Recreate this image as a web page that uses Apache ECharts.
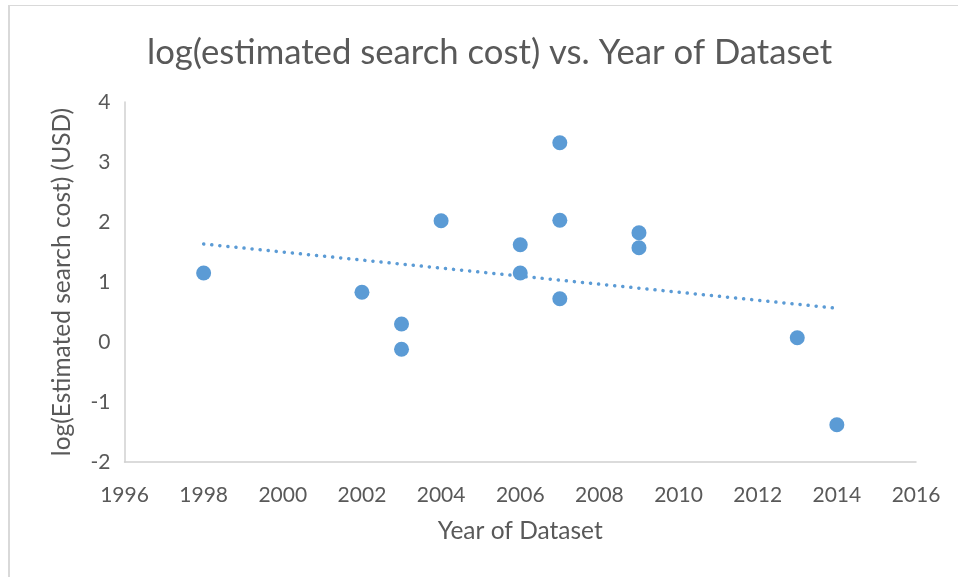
<!DOCTYPE html>
<html>
<head>
<meta charset="utf-8">
<script src="https://cdn.jsdelivr.net/npm/echarts@6/dist/echarts.min.js"></script>
<style>
html,body{margin:0;padding:0;background:#fff;}
#c{position:absolute;left:0;top:0;width:958px;height:577px;}
#b{position:absolute;left:8px;top:5px;width:960px;height:580px;border-left:2px solid #d9d9d9;border-top:1px solid #d9d9d9;}
</style>
</head>
<body>
<div id="b"></div>
<div id="c"></div>
<script>
const years = [1998, 2002, 2003, 2003, 2004, 2006, 2006, 2007, 2007, 2007, 2009, 2009, 2013, 2014];
const logCost = [1.15, 0.83, 0.30, -0.12, 2.02, 1.62, 1.15, 3.32, 2.03, 0.72, 1.82, 1.57, 0.07, -1.38];
const xTicks = [1996, 1998, 2000, 2002, 2004, 2006, 2008, 2010, 2012, 2014, 2016];
const yTicks = [-2, -1, 0, 1, 2, 3, 4];

// least-squares linear trendline
const n = years.length;
const mx = years.reduce((a, b) => a + b, 0) / n;
const my = logCost.reduce((a, b) => a + b, 0) / n;
let sxy = 0, sxx = 0;
for (let i = 0; i < n; i++) { sxy += (years[i] - mx) * (logCost[i] - my); sxx += (years[i] - mx) ** 2; }
const slope = sxy / sxx, icpt = my - slope * mx;
const xMin = Math.min(...years), xMax = Math.max(...years);
const trend = [[xMin, icpt + slope * xMin], [xMax, icpt + slope * xMax]];

const FONT = 'Lato';
const TXT = '#595959';
const chart = echarts.init(document.getElementById('c'));
chart.setOption({
  animation: false,
  title: {
    text: 'log(estimated search cost) vs. Year of Dataset',
    left: 142, top: 30,
    textStyle: { fontFamily: FONT, fontWeight: 'normal', fontSize: 34.7, color: TXT }
  },
  grid: { left: 124.5, right: 42, top: 102, bottom: 115, containLabel: false },
  xAxis: {
    type: 'value', min: xTicks[0], max: xTicks[xTicks.length - 1], interval: 2,
    name: 'Year of Dataset', nameLocation: 'middle', nameGap: 57,
    nameTextStyle: { fontFamily: FONT, fontSize: 24.5, color: TXT },
    axisLine: { show: true, onZero: false, lineStyle: { color: '#d0d0d0', width: 1.5 } },
    axisTick: { show: false }, splitLine: { show: false },
    axisLabel: { fontFamily: FONT, fontSize: 21, color: TXT, margin: 23, formatter: v => String(v) }
  },
  yAxis: {
    type: 'value', min: yTicks[0], max: yTicks[yTicks.length - 1], interval: 1,
    name: 'log(Estimated search cost) (USD)', nameLocation: 'middle', nameGap: 50,
    nameTextStyle: { fontFamily: FONT, fontSize: 24.5, color: TXT },
    axisLine: { show: true, onZero: false, lineStyle: { color: '#d0d0d0', width: 1.5 } },
    axisTick: { show: false }, splitLine: { show: false },
    axisLabel: { fontFamily: FONT, fontSize: 21, color: TXT, margin: 14 }
  },
  series: [
    {
      type: 'line', data: trend, symbol: 'none', z: 1,
      lineStyle: { color: '#5B9BD5', width: 3.5, type: [0.1, 8], cap: 'round' }
    },
    {
      type: 'scatter', data: years.map((y, i) => [y, logCost[i]]), z: 3,
      symbol: 'circle', symbolSize: 15,
      itemStyle: { color: '#5B9BD5', opacity: 1 }
    }
  ]
});
</script>
</body>
</html>
